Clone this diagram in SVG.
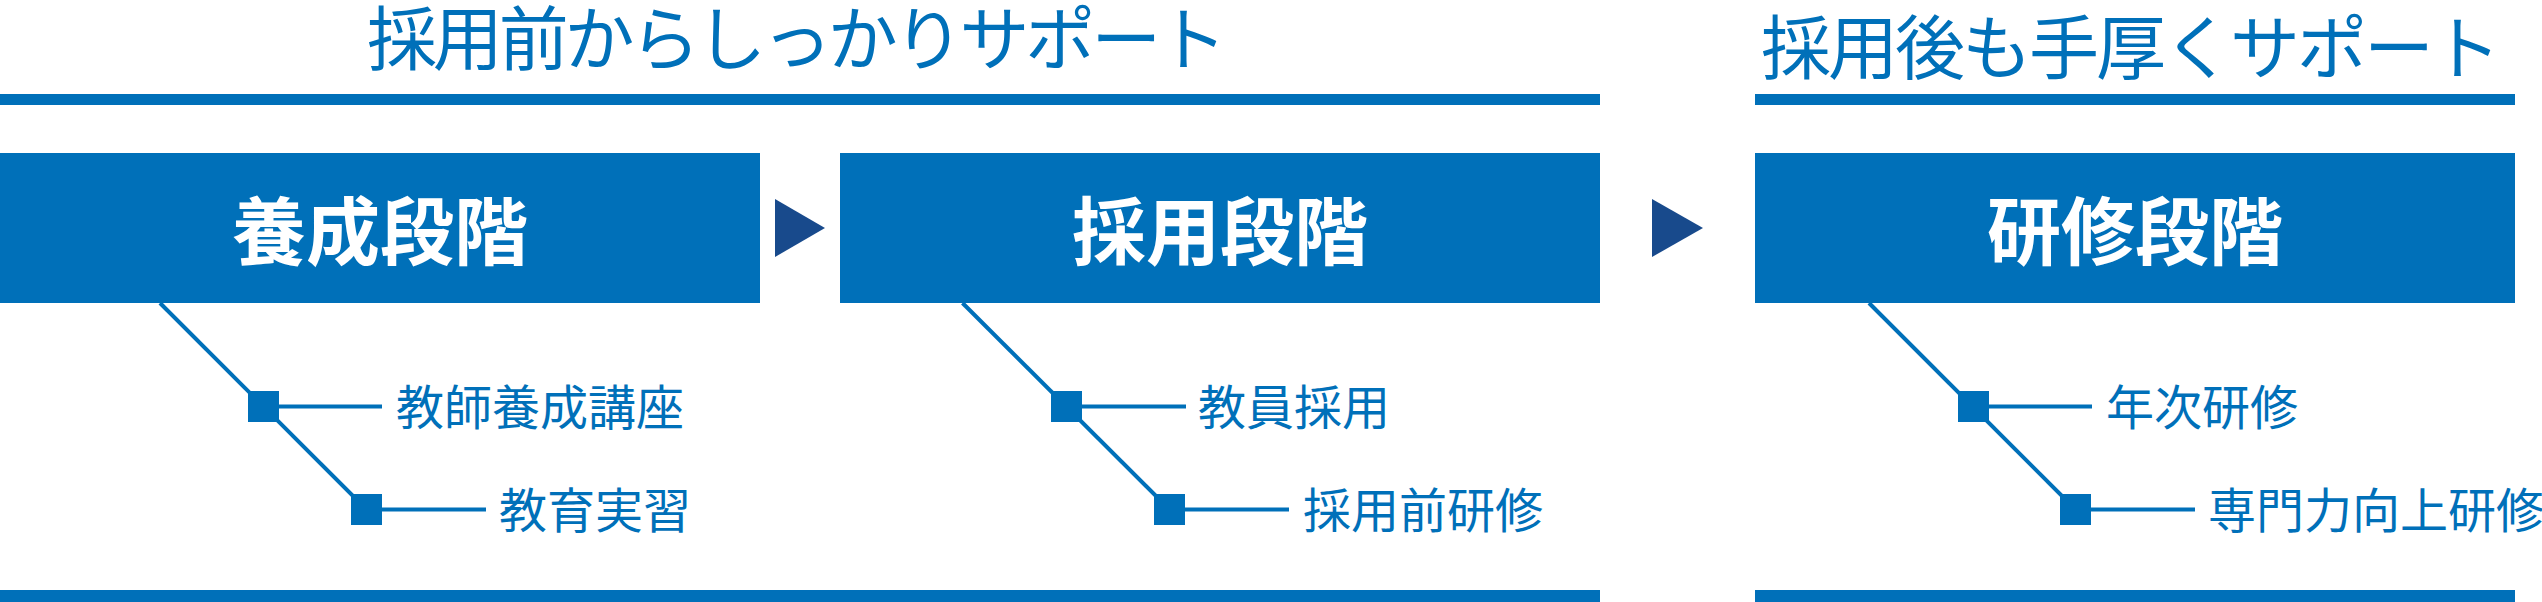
<svg xmlns="http://www.w3.org/2000/svg" width="2542" height="602" viewBox="0 0 2542 602">
<style>
.bar{fill:#0070B9}
.box{fill:#0070B9}
.arrow{fill:#184A8C}
.title{font-family:"Noto Sans CJK JP","Noto Sans",sans-serif;font-size:70px;fill:#0070B9}
.head{font-family:"Noto Sans CJK JP","Noto Sans",sans-serif;font-size:74px;font-weight:bold;fill:#FFFFFF;text-anchor:middle}
.sub{font-family:"Noto Sans CJK JP","Noto Sans",sans-serif;font-size:48px;fill:#0070B9}
.ln{stroke:#0070B9;stroke-width:4;fill:none}
.sq{fill:#0070B9}
</style>
<rect width="2542" height="602" fill="#FFFFFF"/>
<g id="titles">
<text class="title" x="367" y="65" textLength="860" lengthAdjust="spacing">採用前からしっかりサポート</text>
<text class="title" x="1761" y="74" textLength="740" lengthAdjust="spacing">採用後も手厚くサポート</text>
</g>
<g id="rules">
<rect class="bar" x="0" y="94" width="1600" height="11"/>
<rect class="bar" x="1755" y="94" width="760" height="11"/>
<rect class="bar" x="0" y="590" width="1600" height="12"/>
<rect class="bar" x="1755" y="590" width="760" height="12"/>
</g>
<g id="connectors">
<polygon class="arrow" points="775,199 825,228 775,257"/>
<polygon class="arrow" points="1652,199 1703,228 1652,257"/>
<line class="ln" x1="160" y1="303" x2="366.5" y2="509.5"/>
<line class="ln" x1="263" y1="406.5" x2="382" y2="406.5"/>
<line class="ln" x1="366" y1="509.5" x2="486" y2="509.5"/>
<line class="ln" x1="962.5" y1="303" x2="1169.5" y2="509.5"/>
<line class="ln" x1="1066" y1="406.5" x2="1186" y2="406.5"/>
<line class="ln" x1="1169" y1="509.5" x2="1289" y2="509.5"/>
<line class="ln" x1="1869" y1="303" x2="2075.5" y2="509.5"/>
<line class="ln" x1="1973" y1="406.5" x2="2092" y2="406.5"/>
<line class="ln" x1="2075" y1="509.5" x2="2195" y2="509.5"/>
</g>
<g id="stage-yousei">
<rect class="box" x="0" y="153" width="760" height="150"/>
<text class="head" x="380" y="259">養成段階</text>
</g>
<g id="stage-saiyou">
<rect class="box" x="840" y="153" width="760" height="150"/>
<text class="head" x="1220" y="259">採用段階</text>
</g>
<g id="stage-kenshu">
<rect class="box" x="1755" y="153" width="760" height="150"/>
<text class="head" x="2135" y="259">研修段階</text>
</g>
<g id="item-kyoushi-yousei-kouza">
<rect class="sq" x="248" y="391" width="31" height="31"/>
<text class="sub" x="396" y="425">教師養成講座</text>
</g>
<g id="item-kyouiku-jisshuu">
<rect class="sq" x="351" y="494" width="31" height="31"/>
<text class="sub" x="499" y="528">教育実習</text>
</g>
<g id="item-kyouin-saiyou">
<rect class="sq" x="1051" y="391" width="31" height="31"/>
<text class="sub" x="1198" y="425">教員採用</text>
</g>
<g id="item-saiyou-mae-kenshu">
<rect class="sq" x="1154" y="494" width="31" height="31"/>
<text class="sub" x="1303" y="528">採用前研修</text>
</g>
<g id="item-nenji-kenshu">
<rect class="sq" x="1958" y="391" width="31" height="31"/>
<text class="sub" x="2106" y="425">年次研修</text>
</g>
<g id="item-senmon-kenshu">
<rect class="sq" x="2060" y="494" width="31" height="31"/>
<text class="sub" x="2208" y="528">専門力向上研修</text>
</g>
</svg>
